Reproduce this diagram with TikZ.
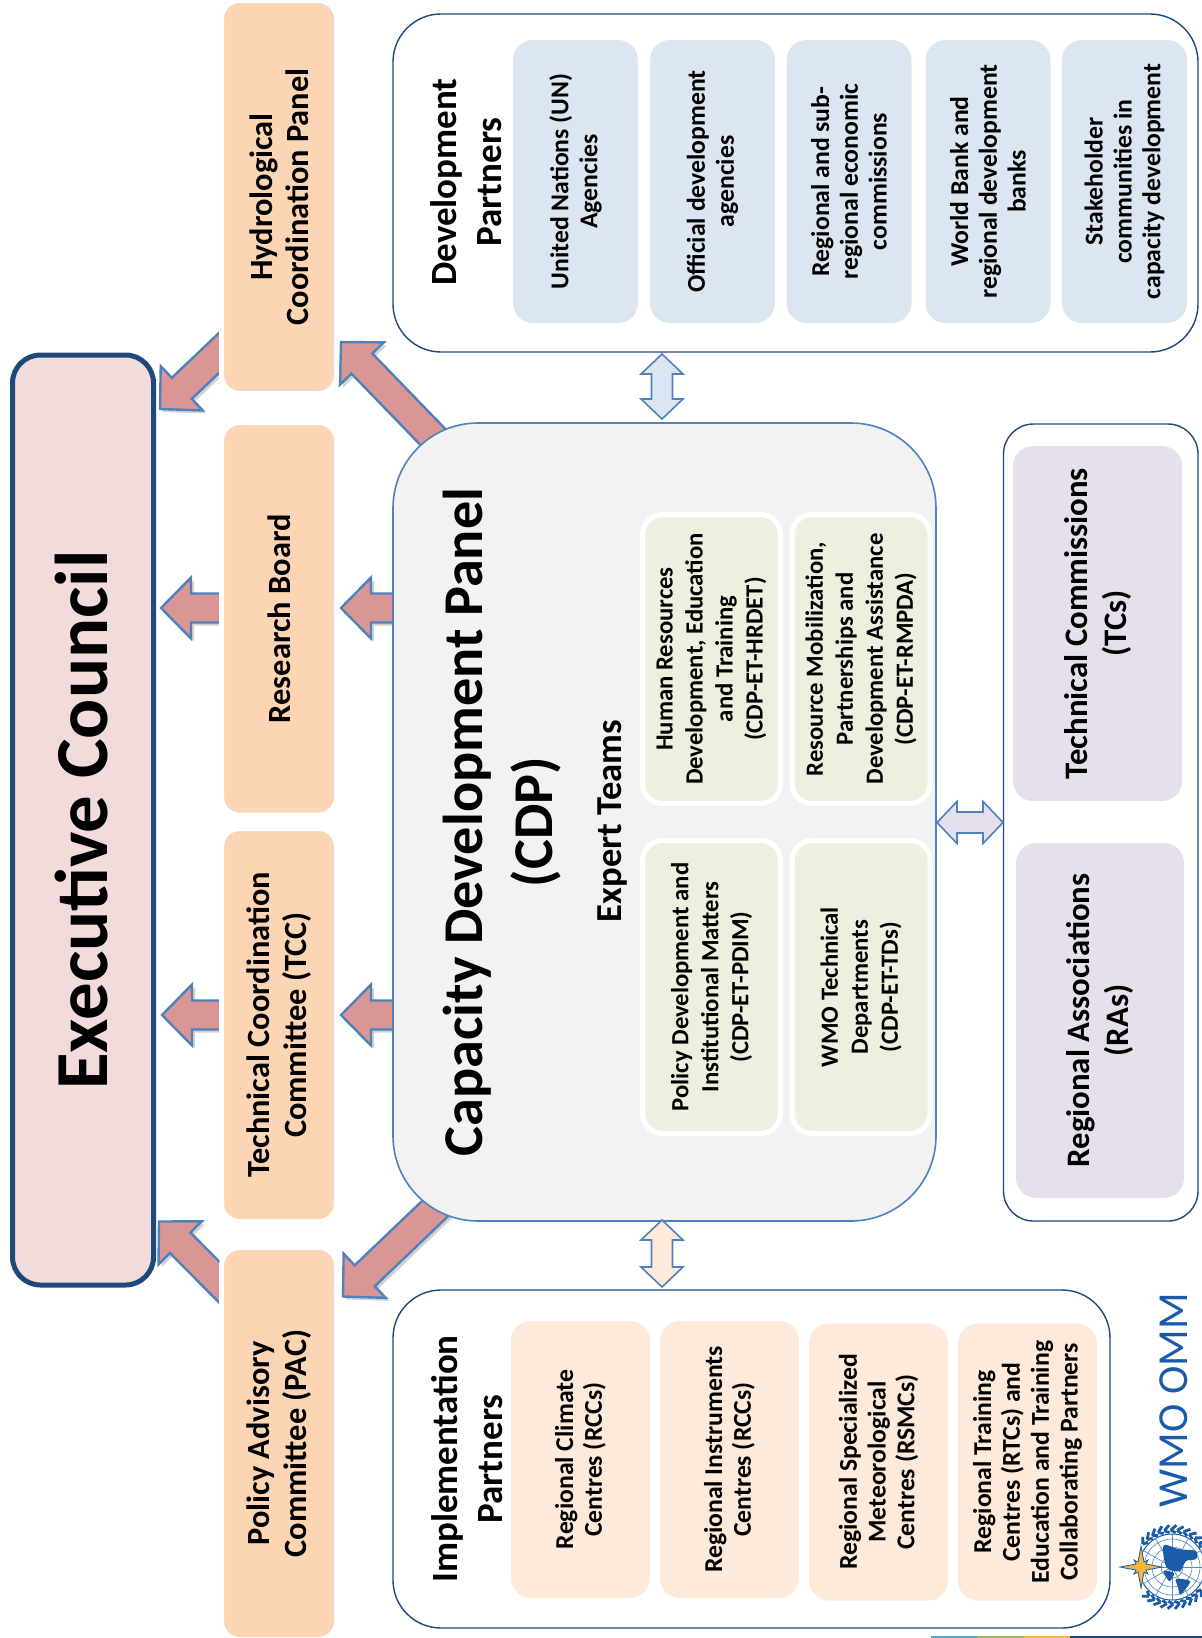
\documentclass[tikz,border=0pt]{standalone}
\usepackage{fontspec}
\setmainfont{Carlito}
\usetikzlibrary{calc,shadows,backgrounds}

\definecolor{navy}{HTML}{1F497D}
\definecolor{edgeblue}{HTML}{4F81BD}
\definecolor{council}{HTML}{F2DCDB}
\definecolor{peach}{HTML}{FCD5B5}
\definecolor{panel}{HTML}{F2F2F2}
\definecolor{rosearrow}{HTML}{D99694}
\definecolor{partnerblue}{HTML}{DCE6F2}
\definecolor{partnerpeach}{HTML}{FDEADA}
\definecolor{teamgreen}{HTML}{EBF1DE}
\definecolor{lilac}{HTML}{E6E0EC}
\definecolor{wmoblue}{HTML}{1A5CA8}
\definecolor{stargold}{HTML}{F9B43A}
\definecolor{rulecyan}{HTML}{4BACC6}
\definecolor{rulegreen}{HTML}{9BBB59}

\tikzset{
    sized/.style 2 args={rotate=90, minimum width=#1*0.5pt, minimum height=#2*0.5pt,
        inner sep=0pt, outer sep=0pt, align=center},
    board/.style 2 args={sized={#1}{#2}, draw=white, line width=2.5pt, fill=peach, rounded corners=9pt,
        font=\bfseries\fontsize{16.2}{18.2}\selectfont},
    frame/.style 2 args={sized={#1}{#2}, draw=navy, line width=0.7pt, fill=white},
    tile/.style 2 args={sized={#1}{#2}, rounded corners=10pt,
        font=\bfseries\fontsize{12.85}{14.4}\selectfont},
    team/.style 2 args={sized={#1}{#2}, draw=white, line width=2.5pt, fill=teamgreen, rounded corners=10pt,
        font=\bfseries\fontsize{12.35}{15}\selectfont},
    heading/.style={rotate=90, align=center, inner sep=0pt, font=\bfseries\fontsize{18.5}{22.5}\selectfont},
    body/.style={rotate=90, align=center, inner sep=0pt},
    blockarrow/.style n args={3}{to path={
        -- ($(\tikztostart)!#1!90:(\tikztotarget)$)
        -- ($($(\tikztotarget)!#3!(\tikztostart)$)!#1!90:(\tikztotarget)$)
        -- ($($(\tikztotarget)!#3!(\tikztostart)$)!#2!90:(\tikztotarget)$)
        -- (\tikztotarget)
        -- ($($(\tikztotarget)!#3!(\tikztostart)$)!#2!-90:(\tikztotarget)$)
        -- ($($(\tikztotarget)!#3!(\tikztostart)$)!#1!-90:(\tikztotarget)$)
        -- ($(\tikztostart)!#1!-90:(\tikztotarget)$)
        -- cycle}},
    fatarrow/.style={blockarrow={7.25pt}{15.25pt}{15pt}, draw=edgeblue, line width=1.2pt, fill=rosearrow,
        line join=miter, drop shadow={shadow xshift=1.5pt, shadow yshift=-1.5pt, opacity=0.35}},
    duoarrow/.style={draw=edgeblue, line width=0.8pt, line join=miter, to path={
        -- ($($(\tikztostart)!10pt!(\tikztotarget)$)!10.5pt!90:(\tikztotarget)$)
        -- ($($(\tikztostart)!10pt!(\tikztotarget)$)!5.25pt!90:(\tikztotarget)$)
        -- ($($(\tikztotarget)!10pt!(\tikztostart)$)!5.25pt!-90:(\tikztostart)$)
        -- ($($(\tikztotarget)!10pt!(\tikztostart)$)!10.5pt!-90:(\tikztostart)$)
        -- (\tikztotarget)
        -- ($($(\tikztotarget)!10pt!(\tikztostart)$)!10.5pt!90:(\tikztostart)$)
        -- ($($(\tikztotarget)!10pt!(\tikztostart)$)!5.25pt!90:(\tikztostart)$)
        -- ($($(\tikztostart)!10pt!(\tikztotarget)$)!5.25pt!-90:(\tikztotarget)$)
        -- ($($(\tikztostart)!10pt!(\tikztotarget)$)!10.5pt!-90:(\tikztotarget)$)
        -- cycle}}
}

\begin{document}
\begin{tikzpicture}[x=0.5pt, y=-0.5pt]
    \useasboundingbox (0,0) rectangle (1202,1638);

    % left column
    \node[sized={930}{141}, draw=navy, line width=2.5pt, fill=council, rounded corners=14pt,
        font=\bfseries\fontsize{37.4}{45}\selectfont] (council) at (83,820) {\raisebox{1.5pt}{Executive Council}};

    \node[board={393}{115}] (hydro) at (279,197) {Hydrological\\Coordination Panel};
    \node[board={392.5}{115}] (research) at (279,618.75) {Research Board};
    \node[board={393}{115}] (tcc) at (279,1025) {Technical Coordination\\Committee (TCC)};
    \node[board={392}{115}] (pac) at (279,1443.5) {Policy Advisory\\Committee (PAC)};

    % centre panel
    \node[sized={798}{543}, draw=edgeblue, line width=0.8pt, fill=panel, rounded corners=42.5pt] (cdp) at (664.5,822) {};
    \node[body, font=\bfseries\fontsize{28.1}{35}\selectfont] (cdptitle) at (502,822) {Capacity Development Panel\\(CDP)};
    \node[body, font=\bfseries\fontsize{18.3}{22}\selectfont] (expert) at (613,821) {Expert Teams};
    \node[team={289}{138}] (hrdet) at (711.5,659) {Human Resources\\Development, Education\\and Training\\(CDP-ET-HRDET)};
    \node[team={289}{138}] (rmpda) at (861,659) {Resource Mobilization,\\Partnerships and\\Development Assistance\\(CDP-ET-RMPDA)};
    \node[team={293}{138}] (pdim) at (711.5,987) {Policy Development and\\Institutional Matters\\(CDP-ET-PDIM)};
    \node[team={293}{138}] (tds) at (861,987) {WMO Technical\\Departments\\(CDP-ET-TDs)};

    % development partners
    \node[frame={338}{805}, rounded corners=24pt] (dev) at (795.5,183) {};
    \node[heading] (devtitle) at (466,182) {Development\\Partners};
    \foreach \cx/\nm/\txt in {
        575.5/un/{United Nations (UN)\\Agencies},
        712.5/oda/{Official development\\agencies},
        849/rec/{Regional and sub-\\regional economic\\commissions},
        988/bank/{World Bank and\\regional development\\banks},
        1124.5/cap/{Stakeholder\\communities in\\capacity development}} {
        \node[tile={283}{125}, fill=partnerblue] (\nm) at (\cx,181.5) {\txt};
    }

    % implementation partners
    \node[frame={338}{717}, rounded corners=24pt] (impl) at (751.5,1459) {};
    \node[heading] (impltitle) at (467,1459) {Implementation\\Partners};
    \foreach \cx/\cy/\nm/\txt in {
        580.5/1459.5/rcc/{Regional Climate\\Centres (RCCs)},
        729.5/1459.5/ric/{Regional Instruments\\Centres (RCCs)},
        878.5/1462/rsmc/{Regional Specialized\\Meteorological\\Centres (RSMCs)},
        1027.5/1462/rtc/{Regional Training\\Centres (RTCs) and\\Education and Training\\Collaborating Partners}} {
        \node[tile={277}{139}, fill=partnerpeach] (\nm) at (\cx,\cy) {\txt};
    }

    % technical commissions and regional associations
    \node[frame={797}{194.5}, rounded corners=15pt] (bodies) at (1100.75,822.5) {};
    \node[sized={355}{169}, fill=lilac, rounded corners=10pt, font=\bfseries\fontsize{16.4}{19.5}\selectfont]
        (tc) at (1097.5,623.5) {Technical Commissions\\(TCs)};
    \node[sized={355}{168}, fill=lilac, rounded corners=10pt, font=\bfseries\fontsize{16.4}{19.5}\selectfont]
        (ra) at (1100,1020.5) {Regional Associations\\(RAs)};

    % arrows between the boards
    \begin{pgfonlayer}{background}
        \draw[fatarrow] ($(pac.north east)+(20,57)$) to ($(council.south west)+(5.5,-63.5)$);
        \draw[fatarrow] ($(hydro.north west)+(18.5,-60.5)$) to ($(council.south east)+(6.5,54)$);
        \draw[fatarrow] ($(research.north)+(0,-10.75)$) to ($(council.south)+(7.5,-212)$);
        \draw[fatarrow] ($(tcc.north)+(0,-10)$) to ($(council.south)+(8.5,195)$);
        \draw[fatarrow] ($(cdp.north east)+(67,42)$) to ($(hydro.south west)+(4.5,-51.5)$);
        \draw[fatarrow] ($(cdp.north west)+(72,-41)$) to ($(pac.south east)+(6.5,49)$);
        \draw[fatarrow] ($(cdp.north)+(5,-214)$) to ($(research.south)+(4.5,-10.75)$);
        \draw[fatarrow] ($(cdp.north)+(5,193)$) to ($(tcc.south)+(4.5,-10)$);
    \end{pgfonlayer}

    \draw[duoarrow, fill=partnerblue] ($(dev.west -| cdp.east)+(-2.5,2)$) to ($(cdp.east)+(-2.5,-4)$);
    \draw[duoarrow, fill=partnerpeach] ($(cdp.west)+(-2.5,-1)$) to ($(impl.east -| cdp.west)+(-2.5,-3)$);
    \draw[duoarrow, fill=lilac] ($(cdp.south)+(1,0.5)$) to ($(bodies.north)+(-0.5,0)$);

    % logo
    \node[body, text=wmoblue, font=\fontsize{21.4}{24}\selectfont] (wmo) at (1173.5,1400) {WMO OMM};
    \begin{scope}[shift={(1172,1567)}]
        \foreach \r in {11,20,28} {
            \draw[wmoblue!70, line width=0.35pt] (0,0) circle (\r);
        }
        \draw[wmoblue, line width=0.5pt] (0,0) circle (33);
        \foreach \a in {0,30,...,150} {
            \draw[wmoblue!70, line width=0.35pt] (\a:33) -- (\a+180:33);
        }
        \fill[wmoblue] plot[smooth cycle] coordinates {(-8,-22) (6,-18) (24,-16) (24,-8) (14,-6) (8,4) (-4,2) (-8,-8)};
        \fill[wmoblue] plot[smooth cycle] coordinates {(-8,4) (2,6) (-2,14) (-6,10)};
        \fill[wmoblue] plot[smooth cycle] coordinates {(4,12) (18,14) (12,24) (8,28) (6,20)};
        \foreach \a in {38,48,...,128,218,228,...,318} {
            \draw[wmoblue, line width=1.4pt] (\a:37) -- (\a+8:42);
            \draw[wmoblue, line width=1.4pt] (\a:37) -- (\a+8:34.5);
        }
        \draw[wmoblue, line width=0.4pt, fill=stargold]
            (-52,0) -- (-36,-3) -- (-38,-7) -- (-34,-5) -- (-31,-21) -- (-28,-5) -- (-24,-7) -- (-26,-3) -- (-10,0)
            -- (-26,3) -- (-24,7) -- (-28,5) -- (-31,21) -- (-34,5) -- (-38,7) -- (-36,3) -- cycle;
    \end{scope}

    % coloured rule along the lower edge
    \foreach \xa/\xb/\col in {931/977/rulecyan, 977/1024/rulegreen, 1024/1070/stargold, 1070/1202/navy} {
        \fill[\col] (\xa,1636) rectangle (\xb,1638);
    }
\end{tikzpicture}
\end{document}
